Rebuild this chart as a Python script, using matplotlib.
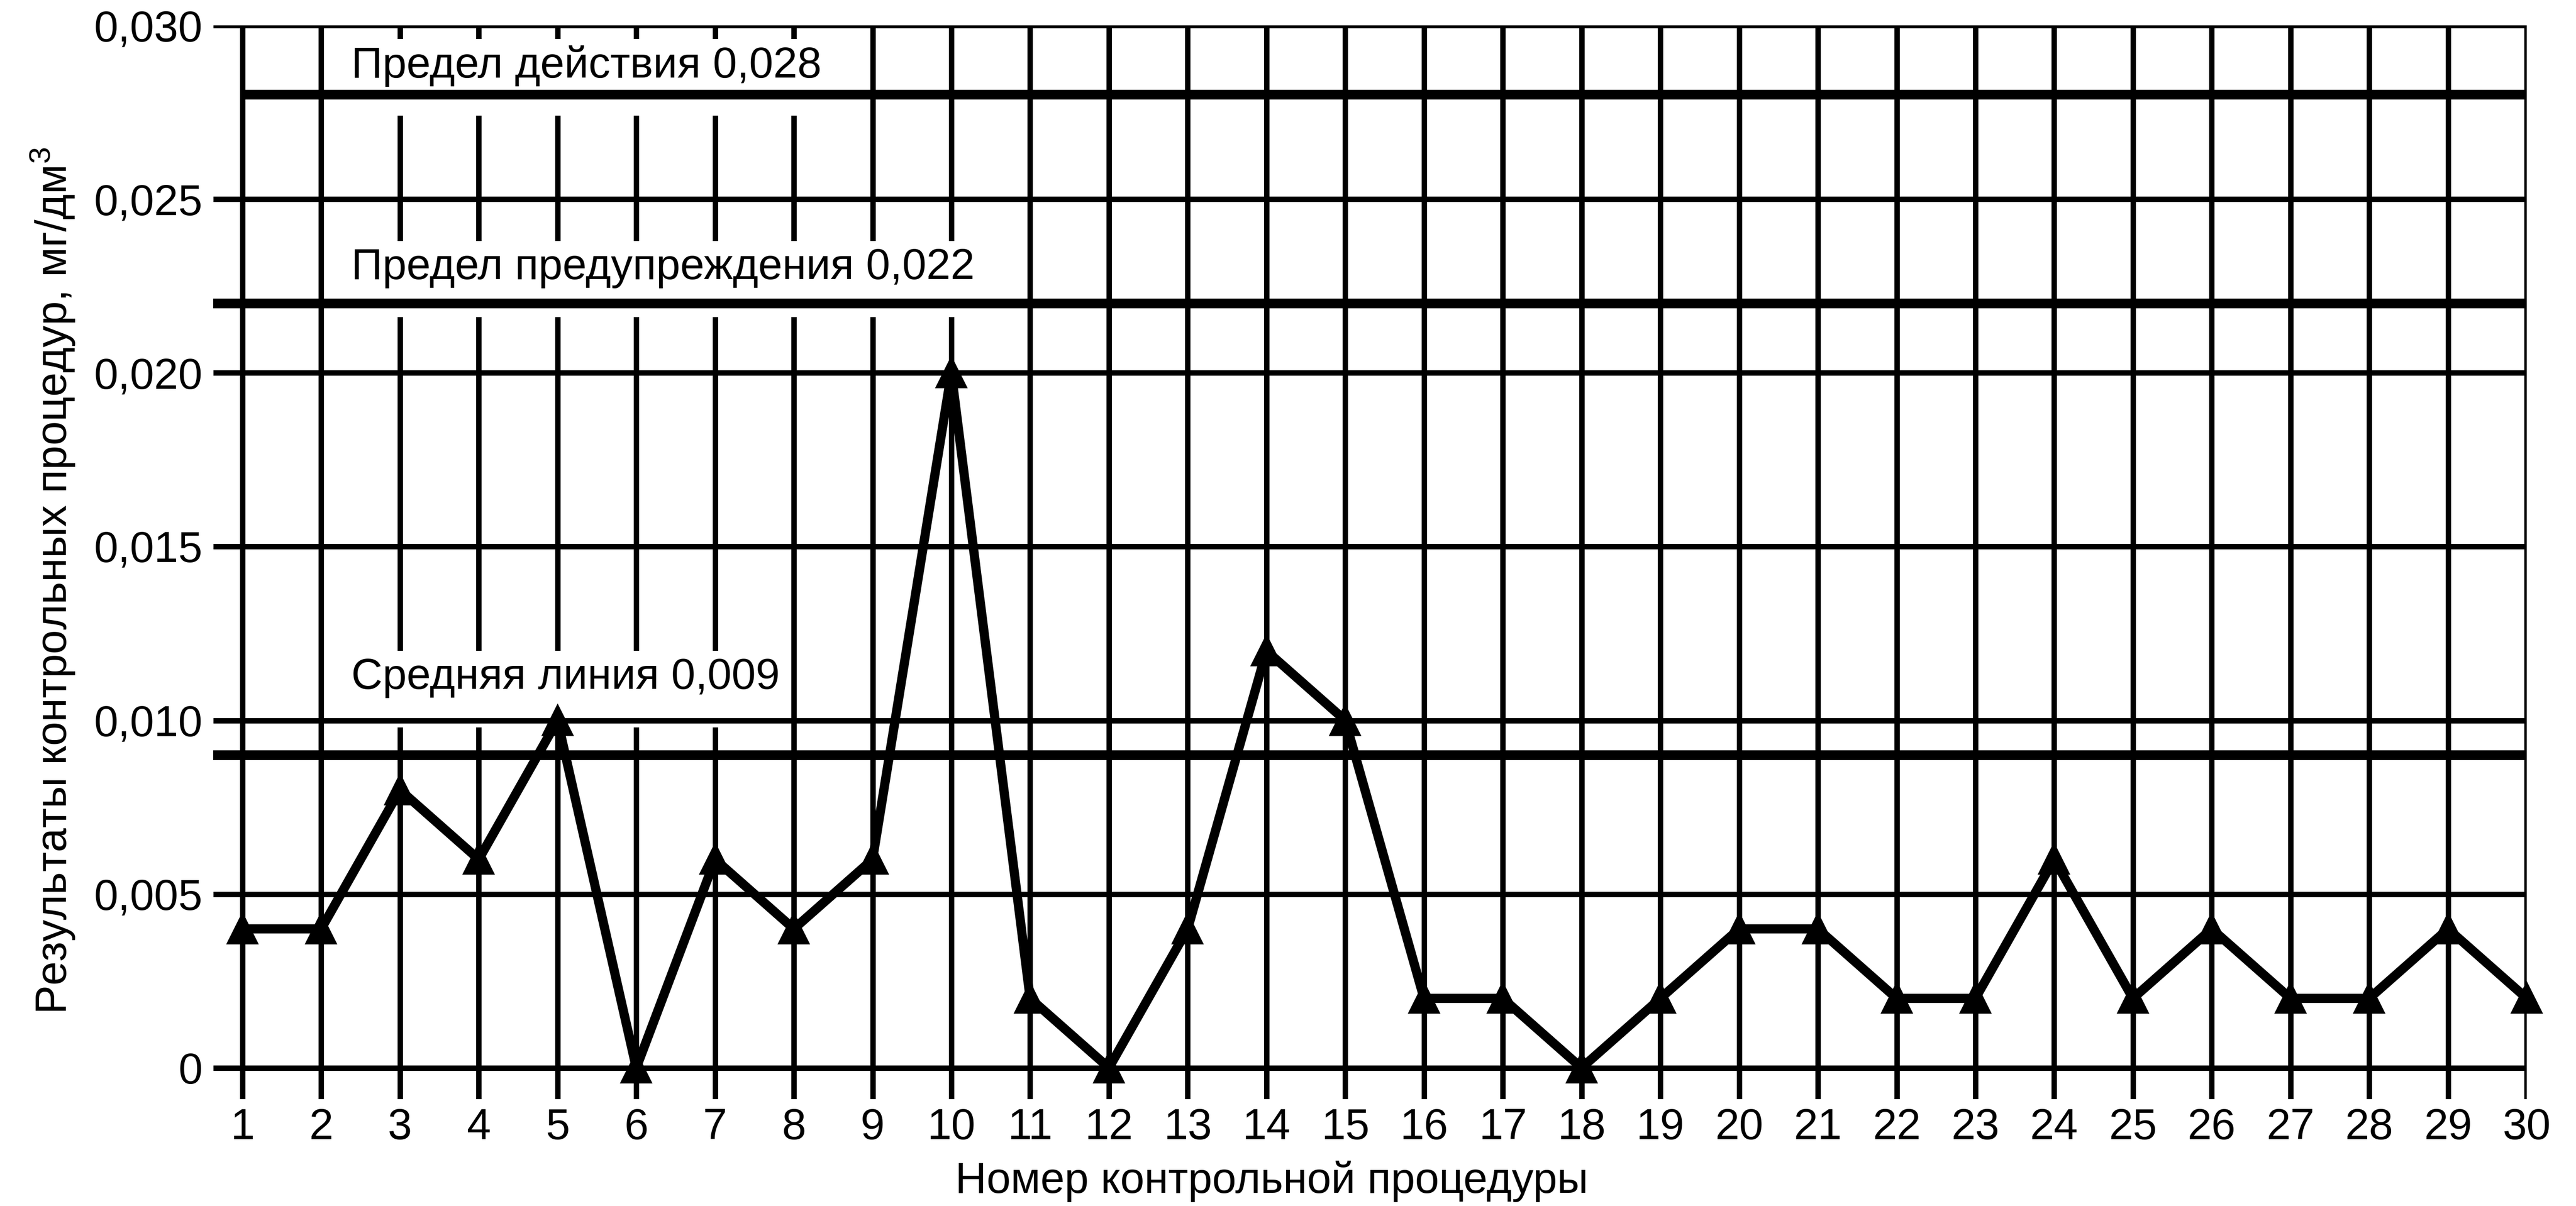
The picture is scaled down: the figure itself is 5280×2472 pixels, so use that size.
import matplotlib
matplotlib.use("Agg")
import matplotlib.pyplot as plt
from matplotlib.patches import Rectangle

plt.rcParams['font.family'] = ['Liberation Sans', 'DejaVu Sans']
plt.rcParams['mathtext.fontset'] = 'custom'
plt.rcParams['mathtext.rm'] = 'Liberation Sans'
plt.rcParams['mathtext.it'] = 'Liberation Sans:italic'

# control chart data
procedures = list(range(1, 31))
results = [0.004, 0.004, 0.008, 0.006, 0.010, 0.000, 0.006, 0.004, 0.006, 0.020,
           0.002, 0.000, 0.004, 0.012, 0.010, 0.002, 0.002, 0.000, 0.002, 0.004,
           0.004, 0.002, 0.002, 0.006, 0.002, 0.004, 0.002, 0.002, 0.004, 0.002]
y_ticks = [0, 0.005, 0.010, 0.015, 0.020, 0.025, 0.030]
y_tick_labels = ['0', '0,005', '0,010', '0,015', '0,020', '0,025', '0,030']
limit_values = [0.028, 0.022, 0.009]
limit_texts = ['Предел действия 0,028', 'Предел предупреждения 0,022', 'Средняя линия 0,009']

x_left, x_right = 0.63, 30
y_bottom, y_top = -0.0009, 0.030
thin, thick = 4.0, 7.2
fs = 32

fig = plt.figure(figsize=(26.4, 12.36), dpi=200)
ax = fig.add_axes([0.0828, 0.0886, 0.8981, 0.8904])
ax.set_xlim(x_left, x_right)
ax.set_ylim(y_bottom, y_top)
for s in ax.spines.values():
    s.set_visible(False)

# grid
ax.vlines(procedures, y_bottom, y_top, color='black', lw=thin, zorder=1)
ax.hlines(y_ticks, x_left, x_right, color='black', lw=thin, zorder=3)
ax.hlines(limit_values, [1, x_left, x_left], x_right, color='black', lw=thick, zorder=3)

# labels of the limits, with the grid cut out behind them
label_y = [0.0285, 0.0227, 0.0109]
gap_end = [8.5, 10.5, 7.5]
for txt, yb, xe in zip(limit_texts, label_y, gap_end):
    ax.add_patch(Rectangle((2.5, yb - 0.0011), xe - 2.5, 0.0022,
                           facecolor='white', edgecolor='none', zorder=2))
    ax.text(2.38, yb, txt, fontsize=fs, ha='left', va='baseline', zorder=5)

ax.plot(procedures, results, color='black', lw=6.8, marker='^', ms=21, mew=2,
        zorder=4, clip_on=False)

ax.set_xticks(procedures)
ax.set_yticks(y_ticks, y_tick_labels)
ax.tick_params(axis='both', length=0, labelsize=fs)
ax.tick_params(axis='x', pad=6)
ax.tick_params(axis='y', pad=8)

fig.text(0.0205, 0.5186, 'Результаты контрольных процедур, мг/дм$^3$',
         rotation=90, ha='center', va='center', fontsize=fs)
fig.text(0.4936, 0.0109, 'Номер контрольной процедуры',
         ha='center', va='baseline', fontsize=fs)

plt.savefig("out.png", dpi=200)
